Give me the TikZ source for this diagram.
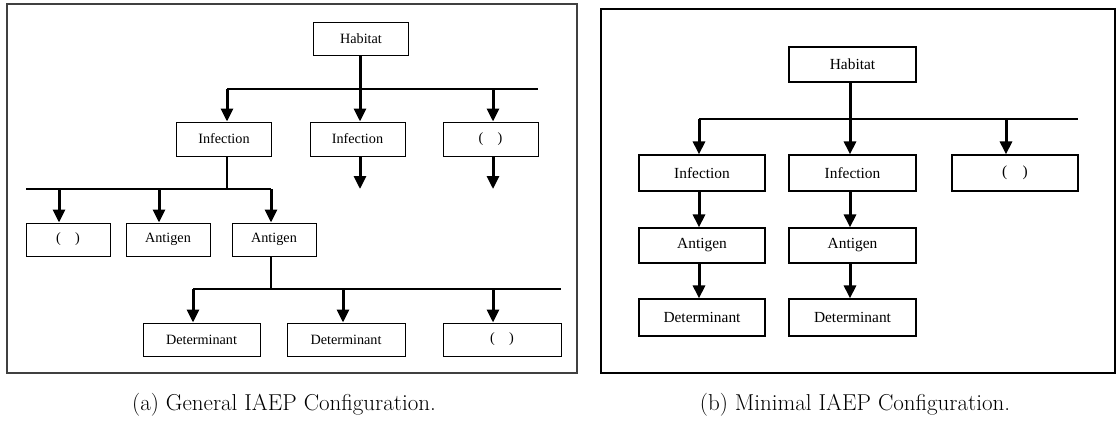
\documentclass[tikz,border=0pt]{standalone}
\usepackage{fontspec}
\newfontfamily\boxfont{Liberation Serif}
\usepackage{tikz}
\usetikzlibrary{arrows.meta}
\newcommand{\emptyslot}{(\hspace{1em})}

\begin{document}
\begin{tikzpicture}[
  x=1pt, y=-1pt,
  box/.style={draw, line width=1pt, inner sep=0pt, minimum height=33pt, font=\boxfont\fontsize{14.2}{16}\selectfont},
  bigbox/.style={box, line width=1.2pt, font=\boxfont\fontsize{15.4}{17}\selectfont},
  frame/.style={draw, line width=1.4pt, inner sep=0pt},
  bus/.style={line width=1.2pt},
  arrow/.style={-{Triangle[length=13pt,width=12pt]}, line width=3pt},
  caption/.style={font=\fontsize{23}{27}\selectfont}
]
  \useasboundingbox (0,0) rectangle (1117,423);

  % (a) general configuration
  \node[frame, draw=black!75, minimum width=570pt, minimum height=369pt] (frameA) at (292,188.5) {};
  \node[box, minimum width=95pt] (habA) at (361,38.5) {Habitat};
  \node[box, minimum width=95pt, minimum height=34pt] (infA1) at (224,139) {Infection};
  \node[box, minimum width=95pt, minimum height=34pt] (infA2) at (357.5,139) {Infection};
  \node[box, minimum width=95pt, minimum height=34pt] (nilA1) at (490.5,139) {\emptyslot};
  \node[box, minimum width=84pt] (nilA2) at (68,239.5) {\emptyslot};
  \node[box, minimum width=84pt] (antA1) at (168,239.5) {Antigen};
  \node[box, minimum width=84pt] (antA2) at (274,239.5) {Antigen};
  \node[box, minimum width=117pt] (detA1) at (201.5,339.5) {Determinant};
  \node[box, minimum width=118pt] (detA2) at (346,339.5) {Determinant};
  \node[box, minimum width=118pt] (nilA3) at (502,339.5) {\emptyslot};

  \coordinate (a1w) at (227,89);
  \coordinate (a1r) at (493,89);
  \coordinate (a1e) at (538,89);
  \coordinate (a1o) at (360,189);
  \draw[bus] (a1w) -- (a1e);
  \draw[arrow] (a1w) -- (a1w |- infA1.north);
  \draw[arrow] (a1o |- habA.south) -- (a1o |- infA2.north);
  \draw[arrow] (a1r) -- (a1r |- nilA1.north);
  \draw[arrow] (a1o |- infA2.south) -- (a1o);
  \draw[arrow] (a1r |- nilA1.south) -- (a1r |- a1o);

  \coordinate (a2w) at (26,189);
  \coordinate (a2l) at (59,189);
  \coordinate (a2m) at (159,189);
  \coordinate (a2e) at (271,189);
  \draw[bus] (a1w |- infA1.south) -- (a1w |- a2w);
  \draw[bus] (a2w) -- (a2e);
  \draw[arrow] (a2l) -- (a2l |- nilA2.north);
  \draw[arrow] (a2m) -- (a2m |- antA1.north);
  \draw[arrow] (a2e) -- (a2e |- antA2.north);

  \coordinate (a3w) at (193,289);
  \coordinate (a3m) at (343,289);
  \coordinate (a3r) at (493,289);
  \coordinate (a3e) at (561,289);
  \draw[bus] (a2e |- antA2.south) -- (a2e |- a3w);
  \draw[bus] (a3w) -- (a3e);
  \draw[arrow] (a3w) -- (a3w |- detA1.north);
  \draw[arrow] (a3m) -- (a3m |- detA2.north);
  \draw[arrow] (a3r) -- (a3r |- nilA3.north);

  \node[caption] (capA) at (284,405) {(a) General IAEP Configuration.};

  % (b) minimal configuration
  \node[frame, minimum width=514pt, minimum height=364pt] (frameB) at (858,191) {};
  \node[bigbox, minimum width=127pt, minimum height=35pt] (habB) at (852.5,64.5) {Habitat};
  \node[bigbox, minimum width=126pt, minimum height=36pt] (infB1) at (702,173) {Infection};
  \node[bigbox, minimum width=127pt, minimum height=36pt] (infB2) at (852.5,173) {Infection};
  \node[bigbox, minimum width=126pt, minimum height=36pt] (nilB) at (1015,173) {\emptyslot};
  \node[bigbox, minimum width=126pt, minimum height=35pt] (antB1) at (702,245.5) {Antigen};
  \node[bigbox, minimum width=127pt, minimum height=35pt] (antB2) at (852.5,245.5) {Antigen};
  \node[bigbox, minimum width=126pt, minimum height=37pt] (detB1) at (702,317.5) {Determinant};
  \node[bigbox, minimum width=127pt, minimum height=37pt] (detB2) at (852.5,317.5) {Determinant};

  \coordinate (b1w) at (699,119);
  \coordinate (b1m) at (850,119);
  \coordinate (b1r) at (1006,119);
  \coordinate (b1e) at (1078,119);
  \draw[bus] (b1w) -- (b1e);
  \draw[arrow] (b1w) -- (b1w |- infB1.north);
  \draw[arrow] (b1m |- habB.south) -- (b1m |- infB2.north);
  \draw[arrow] (b1r) -- (b1r |- nilB.north);
  \draw[arrow] (b1w |- infB1.south) -- (b1w |- antB1.north);
  \draw[arrow] (b1m |- infB2.south) -- (b1m |- antB2.north);
  \draw[arrow] (b1w |- antB1.south) -- (b1w |- detB1.north);
  \draw[arrow] (b1m |- antB2.south) -- (b1m |- detB2.north);

  \node[caption] (capB) at (855,405) {(b) Minimal IAEP Configuration.};
\end{tikzpicture}
\end{document}
